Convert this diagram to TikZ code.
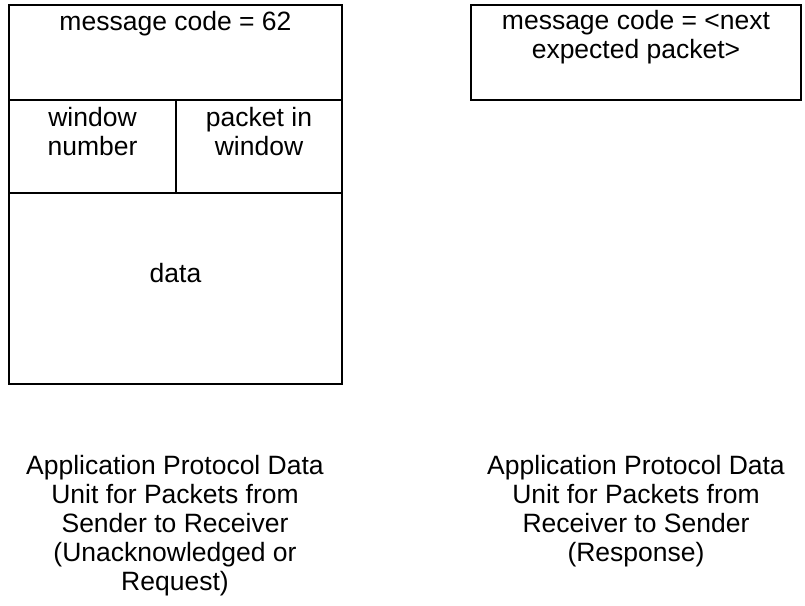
\documentclass[tikz,border=0pt]{standalone}
\usepackage{fontspec}
\setmainfont{Liberation Sans}
\begin{document}
\begin{tikzpicture}[x=1pt,y=-1pt,
  box/.style={line width=2.8pt, line join=miter},
  lbl/.style={inner sep=0pt, anchor=base, align=center,
    font=\fontsize{26.5}{29}\selectfont}]
\useasboundingbox (0,0) rectangle (805,605);
% left PDU (base anchor of a multi-line node = baseline of its last line)
\draw[box] (9,5) rectangle (342,384);
\draw[box] (9,100) -- (342,100);
\draw[box] (9,193) -- (342,193);
\draw[box] (176,100) -- (176,193);
\node[lbl] (code) at (175.5,30) {message code = 62};
\node[lbl] (win) at (92.5,155) {window\\number};
\node[lbl] (pkt) at (259,155) {packet in\\window};
\node[lbl] (data) at (175.5,282) {data};
% right PDU
\draw[box] (471,5) rectangle (801,100);
\node[lbl] (rcode) at (636,58) {message code = <next\\expected packet>};
% captions
\node[lbl] (capl) at (175,590) {Application Protocol Data\\Unit for Packets from\\Sender to Receiver\\(Unacknowledged or\\Request)};
\node[lbl] (capr) at (636,561) {Application Protocol Data\\Unit for Packets from\\Receiver to Sender\\(Response)};
\end{tikzpicture}
\end{document}
